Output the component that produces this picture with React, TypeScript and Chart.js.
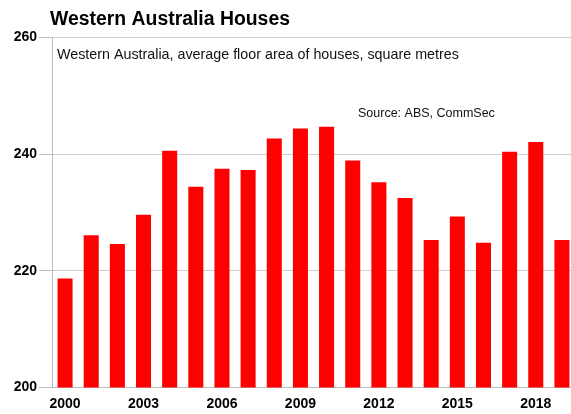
import React, { useEffect, useRef } from "react";
import { Chart, registerables } from "chart.js";

Chart.register(...registerables);

const years = [
  "2000", "2001", "2002", "2003", "2004", "2005", "2006", "2007", "2008", "2009",
  "2010", "2011", "2012", "2013", "2014", "2015", "2016", "2017", "2018", "2019",
];
const floorArea = [
  218.7, 226.1, 224.6, 229.6, 240.6, 234.4, 237.5, 237.3, 242.7, 244.4,
  244.7, 238.9, 235.2, 232.5, 225.3, 229.3, 224.8, 240.4, 242.1, 225.3,
];
const shownYears = ["2000", "2003", "2006", "2009", "2012", "2015", "2018"];
const yMin = 200;
const yMax = 260;
const yStep = 20;

const titleText = "Western Australia Houses";
const subtitleText = "Western Australia, average floor area of houses, square metres";
const sourceText = "Source: ABS, CommSec";

const FONT = '"Liberation Sans", Arial, sans-serif';

export default function App() {
  const ref = useRef<HTMLCanvasElement | null>(null);

  useEffect(() => {
    if (!ref.current) return;
    const textPlugin = {
      id: "texts",
      afterDraw(chart: any) {
        const ctx = chart.ctx;
        ctx.save();
        ctx.fillStyle = "#000";
        ctx.textBaseline = "alphabetic";
        ctx.textAlign = "left";
        ctx.font = `bold 19.4px ${FONT}`;
        ctx.fillText(titleText, 50, 25);
        ctx.fillStyle = "#111";
        ctx.font = `14.3px ${FONT}`;
        ctx.fillText(subtitleText, 57, 59);
        ctx.font = `12.5px ${FONT}`;
        ctx.fillText(sourceText, 358, 117);
        ctx.restore();
      },
    };
    const chart = new Chart(ref.current, {
      type: "bar",
      data: {
        labels: years,
        datasets: [
          {
            data: floorArea,
            backgroundColor: "#ff0000",
            borderWidth: 0,
            categoryPercentage: 1,
            barPercentage: 0.575,
          },
        ],
      },
      options: {
        animation: false,
        responsive: false,
        maintainAspectRatio: false,
        layout: { padding: { top: 37.5, left: 0, right: 0, bottom: 0 } },
        plugins: {
          legend: { display: false },
          tooltip: { enabled: false },
          title: { display: false },
        },
        scales: {
          x: {
            grid: { display: false, drawTicks: false },
            border: { display: true, color: "#bdbdbd", width: 1 },
            ticks: {
              autoSkip: false,
              maxRotation: 0,
              padding: 8,
              color: "#000",
              font: { family: FONT, size: 14, weight: "bold" },
              callback: function (this: any, _v: any, i: number) {
                const lab = years[i];
                return shownYears.includes(lab) ? lab : "";
              },
            },
            afterFit(scale: any) {
              scale.height = 26.5;
            },
          },
          y: {
            min: yMin,
            max: yMax,
            grid: {
              color: "#cfcfcf",
              tickColor: "#bdbdbd",
              lineWidth: 1,
              drawTicks: true,
              tickLength: 13,
            },
            border: { display: true, color: "#bdbdbd", width: 1 },
            ticks: {
              stepSize: yStep,
              padding: 2,
              color: "#000",
              font: { family: FONT, size: 14, weight: "bold" },
            },
            afterFit(scale: any) {
              scale.width = 52;
            },
          },
        },
      },
      plugins: [textPlugin],
    });
    return () => chart.destroy();
  }, []);

  return (
    <div
      style={{
        position: "fixed",
        left: 0,
        top: 0,
        width: 571,
        height: 414,
        overflow: "hidden",
        background: "#fff",
      }}
    >
      <canvas ref={ref} width={575} height={414} style={{ width: 575, height: 414, display: "block" }} />
    </div>
  );
}
